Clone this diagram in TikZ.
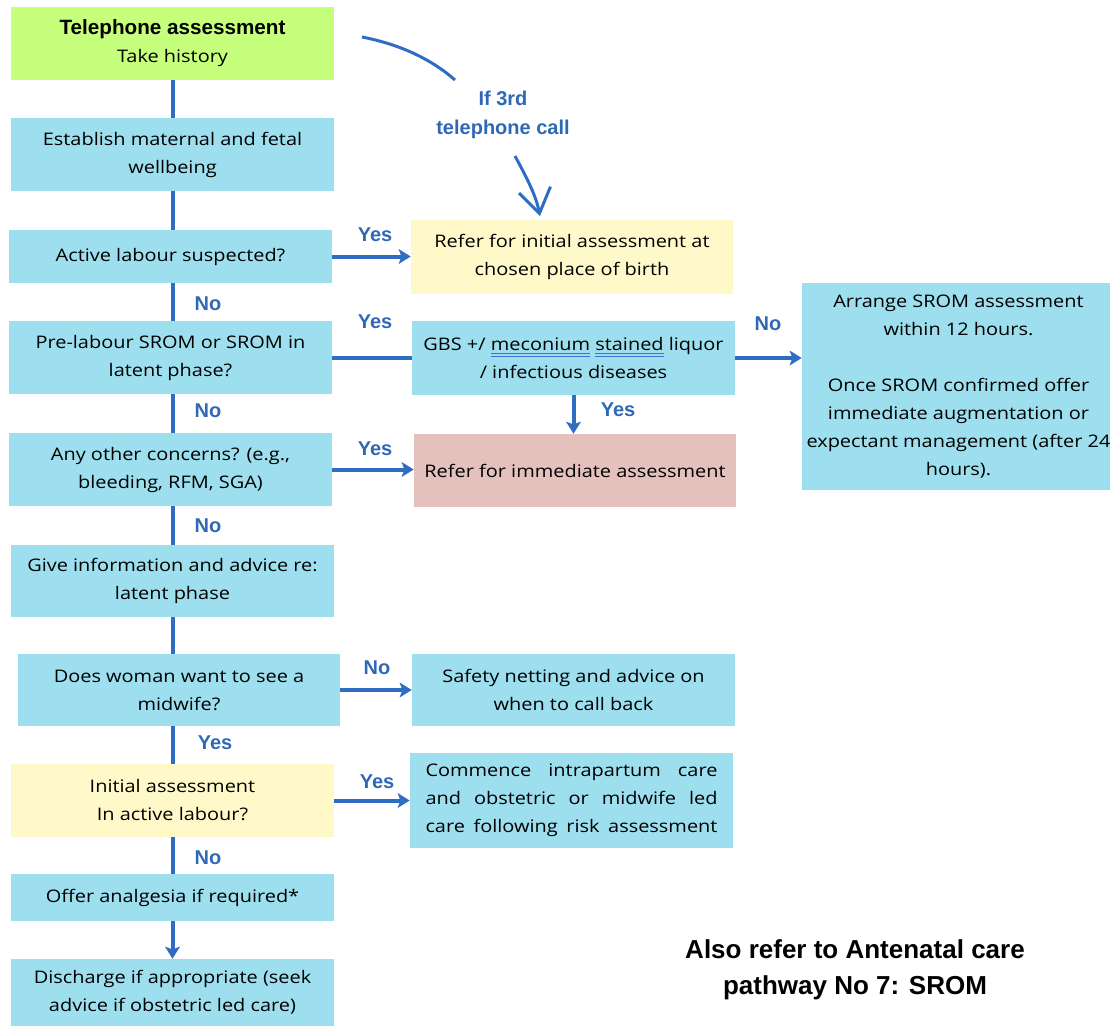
\documentclass[tikz,border=0pt]{standalone}
\usepackage{fontspec}
\setmainfont{Open Sans}[FakeStretch=1.15]
\newfontfamily\arialfont{Liberation Sans}
\usetikzlibrary{arrows.meta}
\definecolor{boxblue}{HTML}{9DDFEE}
\definecolor{boxgreen}{HTML}{C5FF7B}
\definecolor{boxyellow}{HTML}{FFF9CA}
\definecolor{boxpink}{HTML}{E5C1BD}
\definecolor{linkblue}{HTML}{2E6DC2}
\definecolor{lblblue}{HTML}{2F68B6}
\definecolor{ulblue}{HTML}{3F6FD8}
\newcommand\boxtext{\fontsize{13}{21}\selectfont}
\newcommand\dblul[1]{\setbox0=\hbox{#1}\rlap{\textcolor{ulblue}{\rule[-2.6pt]{\wd0}{0.6pt}}}\rlap{\textcolor{ulblue}{\rule[-4.4pt]{\wd0}{0.6pt}}}\box0\relax}
\begin{document}
\begin{tikzpicture}[x=0.75pt,y=-0.75pt,
  box/.style={fill=boxblue, inner sep=0pt, align=center, font=\boxtext, text=black},
  lbl/.style={font=\fontsize{15}{17}\selectfont\arialfont\bfseries, text=lblblue, inner sep=0pt},
  conn/.style={draw=linkblue, line width=3pt},
  arr/.style={conn, -{Stealth[length=9pt,width=11pt,inset=2pt]}},
  curv/.style={draw=linkblue, line width=2.25pt}]
\useasboundingbox (0,0) rectangle (1110,1026);
\clip (0,0) rectangle (1110,1026);
% left column
\node[box, fill=boxgreen, minimum width=242.25pt, minimum height=54.75pt] (tel) at (172.5,43.5)
  {{\fontsize{15.5}{21}\selectfont\arialfont\bfseries Telephone assessment}\\Take history};
\node[box, minimum width=242.25pt, minimum height=54.75pt] (est) at (172.5,154.5)
  {Establish maternal and fetal\\wellbeing};
\node[box, minimum width=242.25pt, minimum height=39.75pt] (act) at (170.5,256.5)
  {Active labour suspected?};
\node[box, minimum width=242.25pt, minimum height=54.75pt] (pre) at (170.5,357.5)
  {Pre-labour SROM or SROM in\\latent phase?};
\node[box, minimum width=242.25pt, minimum height=54.75pt] (any) at (170.5,469.5)
  {Any other concerns? (e.g.,\\bleeding, RFM, SGA)};
\node[box, minimum width=242.25pt, minimum height=54pt] (give) at (172.5,581)
  {Give information and advice re:\\latent phase};
\node[box, minimum width=241.5pt, minimum height=54pt] (does) at (179,690)
  {Does woman want to see a\\midwife?};
\node[box, fill=boxyellow, minimum width=242.25pt, minimum height=54.75pt] (init) at (172.5,800.5)
  {Initial assessment\\In active labour?};
\node[box, minimum width=242.25pt, minimum height=35.25pt] (off) at (172.5,897.5)
  {Offer analgesia if required*};
\node[box, minimum width=242.25pt, minimum height=50.25pt] (dis) at (172.5,992.5)
  {Discharge if appropriate (seek\\advice if obstetric led care)};
% right column
\node[box, fill=boxyellow, minimum width=241.5pt, minimum height=55.5pt] (ref) at (572,257)
  {Refer for initial assessment at\\chosen place of birth};
\node[box, minimum width=242.25pt, minimum height=55.5pt] (gbs) at (573.5,358)
  {GBS +/ \dblul{meconium} \dblul{stained} liquor\\/ infectious diseases};
\node[box, fill=boxpink, minimum width=241.5pt, minimum height=54.75pt] (imm) at (575,470.5)
  {Refer for immediate assessment};
\node[box, minimum width=234.75pt, minimum height=155.25pt] (srom) at (958.5,386.5)
  {Arrange SROM assessment\\within 12 hours.\\[21pt]Once SROM confirmed offer\\immediate augmentation or\\expectant management (after 24\\hours).};
\node[box, minimum width=242.25pt, minimum height=54pt] (safe) at (573.5,690)
  {Safety netting and advice on\\when to call back};
\node[box, minimum width=242.25pt, minimum height=71.25pt] (com) at (571.5,800.5)
  {\hbox to 219pt{Commence\hfill intrapartum\hfill care}\\
   \hbox to 219pt{and\hfill obstetric\hfill or\hfill midwife\hfill led}\\
   \hbox to 219pt{care following risk assessment}};
% vertical connectors
\draw[conn] (tel.south) -- (est.north);
\draw[conn] (est.south) -- (est.south |- act.north);
\draw[conn] (act.south -| est.south) -- (pre.north -| est.south);
\draw[conn] (pre.south -| est.south) -- (any.north -| est.south);
\draw[conn] (any.south -| est.south) -- (give.north);
\draw[conn] (give.south) -- (give.south |- does.north);
\draw[conn] (does.south -| init.north) -- (init.north);
\draw[conn] (init.south) -- (off.north);
\draw[arr] (off.south) -- (dis.north);
% horizontal connectors
\draw[arr] (act.east) -- (act.east -| ref.west);
\draw[conn] (pre.east) -- (pre.east -| gbs.west);
\draw[arr] (gbs.east) -- (gbs.east -| srom.west);
\draw[arr] (gbs.south) -- (gbs.south |- imm.north);
\draw[arr] (any.east) -- (any.east -| imm.west);
\draw[arr] (does.east) -- (does.east -| safe.west);
\draw[arr] (init.east) -- (init.east -| com.west);
% labels
\node[lbl] (l1) at (375,235) {Yes};
\node[lbl] (l2) at (208,304) {No};
\node[lbl] (l3) at (375,322) {Yes};
\node[lbl] (l4) at (768,324) {No};
\node[lbl] (l5) at (208,411) {No};
\node[lbl] (l6) at (618,410) {Yes};
\node[lbl] (l7) at (375,449) {Yes};
\node[lbl] (l8) at (208,526) {No};
\node[lbl] (l9) at (377,668) {No};
\node[lbl] (l10) at (215,743) {Yes};
\node[lbl] (l11) at (377,782) {Yes};
\node[lbl] (l12) at (208,858) {No};
% third call
\node[lbl, align=center, font=\fontsize{15}{21.75}\selectfont\arialfont\bfseries] (third) at (503,114.5) {If 3rd\\telephone call};
\coordinate (c1) at (362,37);
\coordinate (c2) at (455,80);
\coordinate (c3) at (515,156);
\coordinate (c4) at (540,216);
\draw[curv] (c1) .. controls (398,44) and (430,58) .. (c2);
\draw[curv, -{Straight Barb[length=18pt,width=24pt]}] (c3) .. controls (528,180) and (536,196) .. (c4);
% note
\node[align=center, inner sep=0pt, font=\fontsize{19.5}{27}\selectfont\arialfont\bfseries] (note) at (855,970)
  {Also refer to Antenatal care\\pathway No 7: SROM};
\end{tikzpicture}
\end{document}
